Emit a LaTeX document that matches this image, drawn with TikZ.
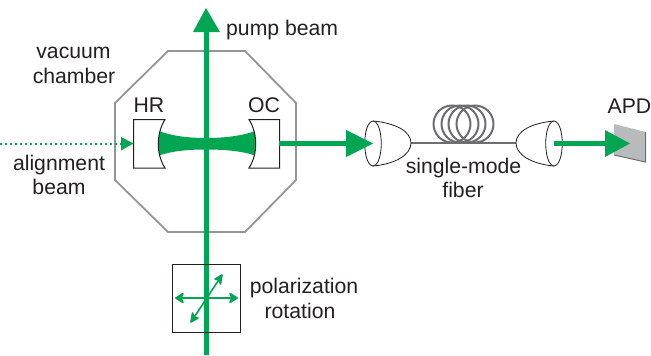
\documentclass[tikz,border=0pt]{standalone}
\usepackage{fontspec}
\setmainfont{Liberation Sans}
\definecolor{beam}{HTML}{00A651}
\definecolor{txt}{HTML}{231F20}
\definecolor{cham}{HTML}{939598}
\definecolor{fibre}{HTML}{6D6E71}
\tikzset{
  lbl/.style={font=\fontsize{21.2}{23}\selectfont,text=txt,inner sep=0pt,anchor=center},
  bigbeam/.style={draw=beam,line width=5pt},
  headfill/.style={fill=beam,draw=none},
  optic/.style={draw=txt,line width=1pt,fill=white},
  thinoptic/.style={draw=txt,line width=0.8pt,fill=white},
  pol/.style={draw=beam,line width=1.6pt},
}
\begin{document}
\begin{tikzpicture}[x=1pt,y=-1pt]
\useasboundingbox (0,0) rectangle (651,356);
% chamber
\draw[cham,line width=1.8pt] (168,51)--(245,51)--(296,103)--(296,180)--(245,232)--(168,232)--(115,180)--(115,103)--cycle;
% named points
\coordinate (pumpS) at (206,355);
\coordinate (pumpE) at (206,30);
\coordinate (alS) at (0,143.5);
\coordinate (alE) at (123,143.5);
\coordinate (outS) at (279,143.5);
\coordinate (outE) at (349,143.5);
\coordinate (apdS) at (554,143.5);
\coordinate (apdE) at (608,143.5);
\coordinate (lensL) at (411,143);
\coordinate (lensR) at (516,143);
% pump beam
\draw[bigbeam] (pumpS)--(pumpE);
\fill[headfill] (206,8)--(220,32)--(193,32)--cycle;
% alignment beam
\draw[beam,line width=2pt,dash pattern=on 2.4pt off 2.6pt] (alS)--(alE);
\fill[headfill] (133.5,143.5)--(121,137)--(121,150.5)--cycle;
% cavity mode
\fill[beam] (159,131) .. controls (172,136) and (188,138) .. (206,138)
  .. controls (224,138) and (242,136) .. (255,131)
  .. controls (256.5,139) and (256.5,149) .. (255,155.5)
  .. controls (242,151) and (224,149.5) .. (206,149.5)
  .. controls (188,149.5) and (172,151) .. (159,155.5)
  .. controls (157.5,149) and (157.5,139) .. (159,131) -- cycle;
% mirrors
\draw[optic] (133.5,119.5)--(165,119.5) .. controls (156,134) and (156,154) .. (165,168)--(133.5,168)--cycle;
\draw[optic] (279.5,119.5)--(249,119.5) .. controls (258,134) and (258,154) .. (249,168)--(279.5,168)--cycle;
% output beam
\draw[bigbeam] (outS)--(outE);
% fiber loops
\foreach \cx in {452,460,467,475}{\draw[fibre,line width=2pt] (\cx,124) circle[radius=18.5];}
\draw[fibre,line width=2pt] (lensL)--(lensR);
% fiber couplers
\draw[thinoptic] (373,121) .. controls (395,123) and (411,131) .. (lensL) .. controls (411,155) and (395,164) .. (373,166) .. controls (362,165) and (362,122) .. (373,121)--cycle;
\draw[thinoptic] (373,121) .. controls (384,122) and (384,165) .. (373,166);
\fill[headfill] (373,143.5)--(346,130)--(346,157)--cycle;
\draw[thinoptic] (554,121) .. controls (532,123) and (516,131) .. (lensR) .. controls (516,155) and (532,164) .. (554,166) .. controls (565,165) and (565,122) .. (554,121)--cycle;
\draw[thinoptic] (554,121) .. controls (543,122) and (543,165) .. (554,166);
% detector
\fill[fill=cham!65] (614,124)--(645.5,132)--(645.5,162)--(614,155)--cycle;
\draw[fibre,line width=1pt] (614,155)--(645.5,162)--(645.5,132);
\draw[bigbeam] (apdS)--(apdE);
\fill[headfill] (630,143.5)--(605,130)--(605,157)--cycle;
% polarization rotation box
\node[draw=txt,line width=1pt,minimum width=67.5pt,minimum height=68pt,inner sep=0pt] (polbox) at (206.25,298) {};
\coordinate (pL) at (176,298);
\coordinate (pR) at (237,298);
\coordinate (dA) at (191,322);
\coordinate (dB) at (222,275);
\draw[pol] (pL)--(pR);
\draw[pol] (dA)--(dB);
\draw[pol,line cap=round,line join=round,fill=beam] (176,298)--(183,293.5)--(181,298)--(183,302.5)--cycle;
\draw[pol,line cap=round,line join=round,fill=beam] (237,298)--(230,293.5)--(232,298)--(230,302.5)--cycle;
\draw[pol,line cap=round,line join=round,fill=beam] (222,275)--(215,279)--(219,280)--(220.5,284)--cycle;
\draw[pol,line cap=round,line join=round,fill=beam] (191,322)--(198,318)--(194,317)--(192.5,313)--cycle;
% labels
\node[lbl,anchor=west] (tPump) at (226,30) {pump beam};
\node[lbl] (tVac) at (73.5,53) {vacuum};
\node[lbl] (tCha) at (74,76) {chamber};
\node[lbl] (tHR) at (149,105) {HR};
\node[lbl] (tOC) at (264,105) {OC};
\node[lbl] (tAl) at (59,165) {alignment};
\node[lbl] (tBe) at (59,187) {beam};
\node[lbl] (tSm) at (463.5,168) {single-mode};
\node[lbl] (tFi) at (463,190) {fiber};
\node[lbl] (tAp) at (629.5,106) {APD};
\node[lbl] (tPo) at (304,288) {polarization};
\node[lbl] (tRo) at (300,311) {rotation};
\end{tikzpicture}
\end{document}
